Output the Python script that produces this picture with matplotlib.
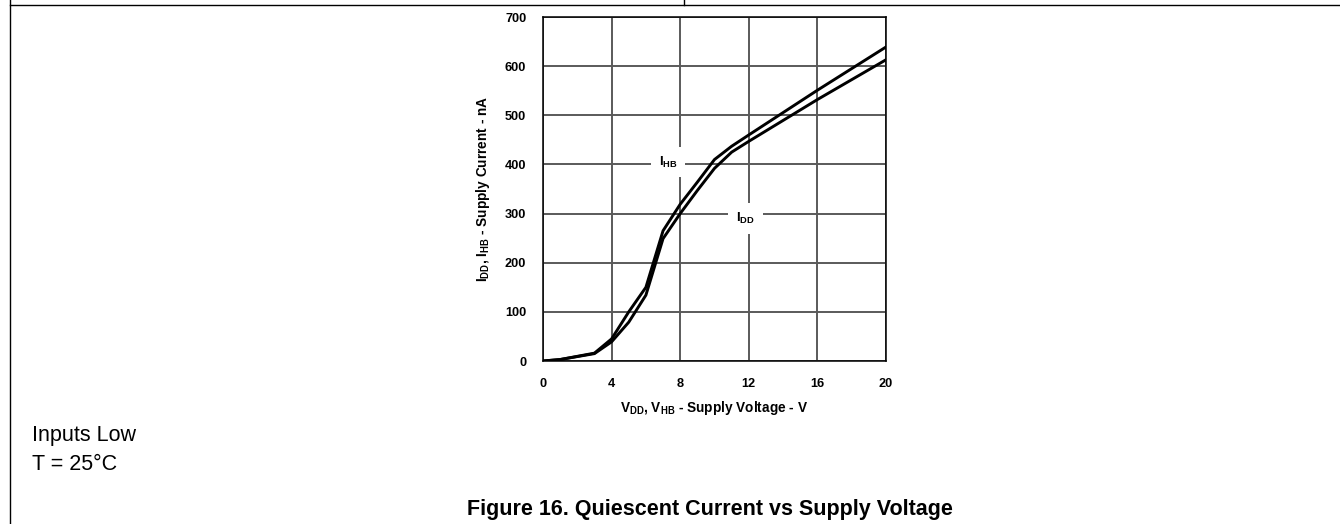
import numpy as np
import matplotlib
matplotlib.use("Agg")
import matplotlib.pyplot as plt
from matplotlib.lines import Line2D

plt.rcParams.update({
    "font.family": ["Liberation Sans", "DejaVu Sans"],
    "mathtext.fontset": "custom",
    "mathtext.rm": "Liberation Sans",
    "mathtext.bf": "Liberation Sans:bold",
    "mathtext.it": "Liberation Sans:italic",
})

# --- data --------------------------------------------------------------------
v_hb = [0, 1, 3, 4, 5, 6, 7, 8, 9, 10, 11, 12, 16, 20]
i_hb = [0, 3, 16, 45, 100, 150, 265, 319, 364, 410, 437, 460, 551, 639]
v_dd = [0, 1, 3, 4, 5, 6, 7, 8, 9, 10, 11, 12, 16, 20]
i_dd = [0, 3, 15, 39, 79, 134, 249, 300, 347, 392, 425, 447, 532, 613]

xticks = [0, 4, 8, 12, 16, 20]
yticks = [0, 100, 200, 300, 400, 500, 600, 700]

W, H = 1340, 524
fig = plt.figure(figsize=(W / 100, H / 100), dpi=100)
ax = fig.add_axes([543 / W, 1 - 361 / H, 343 / W, 344 / H])

ax.plot(v_hb, i_hb, color="black", lw=2.1, zorder=3)
ax.plot(v_dd, i_dd, color="black", lw=2.1, zorder=3)

ax.set_xlim(0, 20)
ax.set_ylim(0, 700)
ax.set_xticks(xticks)
ax.set_yticks(yticks)
ax.grid(True, color="#5a5a5a", lw=1.4, zorder=1)
ax.set_axisbelow(True)
ax.tick_params(length=0, pad=12, labelsize=9.2)
for lab in ax.get_xticklabels() + ax.get_yticklabels():
    lab.set_fontweight("bold")
for sp in ax.spines.values():
    sp.set_color("black")
    sp.set_linewidth(1.1)

ax.set_xlabel(r"V$_{\mathbf{DD}}$, V$_{\mathbf{HB}}$ - Supply Voltage - V",
              fontsize=9.8, fontweight="bold", labelpad=7)
ax.set_ylabel(r"I$_{\mathbf{DD}}$, I$_{\mathbf{HB}}$ - Supply Current - nA",
              fontsize=9.8, fontweight="bold", labelpad=9)

box = dict(boxstyle="square,pad=0.6", fc="white", ec="none")
ax.text(7.3, 405, r"I$_{\mathbf{HB}}$", fontsize=9.5, fontweight="bold",
        ha="center", va="center", bbox=box, zorder=2)
ax.text(11.8, 290, r"I$_{\mathbf{DD}}$", fontsize=9.5, fontweight="bold",
        ha="center", va="center", bbox=box, zorder=2)

# page frame lines
fig.add_artist(Line2D([10 / W, 1], [1 - 5 / H, 1 - 5 / H], color="black", lw=1.0))
fig.add_artist(Line2D([10 / W, 10 / W], [0, 1], color="black", lw=1.0))
fig.add_artist(Line2D([684 / W, 684 / W], [1 - 5 / H, 1], color="black", lw=1.0))

fig.text(32 / W, 1 - 435 / H, "Inputs Low", fontsize=15.5, ha="left", va="center")
fig.text(32 / W, 1 - 464 / H, "T = 25°C", fontsize=15.5, ha="left", va="center")
fig.text(710 / W, 1 - 510 / H, "Figure 16. Quiescent Current vs Supply Voltage",
         fontsize=15.5, fontweight="bold", ha="center", va="center")

fig.savefig("out.png", dpi=100, facecolor="white")
